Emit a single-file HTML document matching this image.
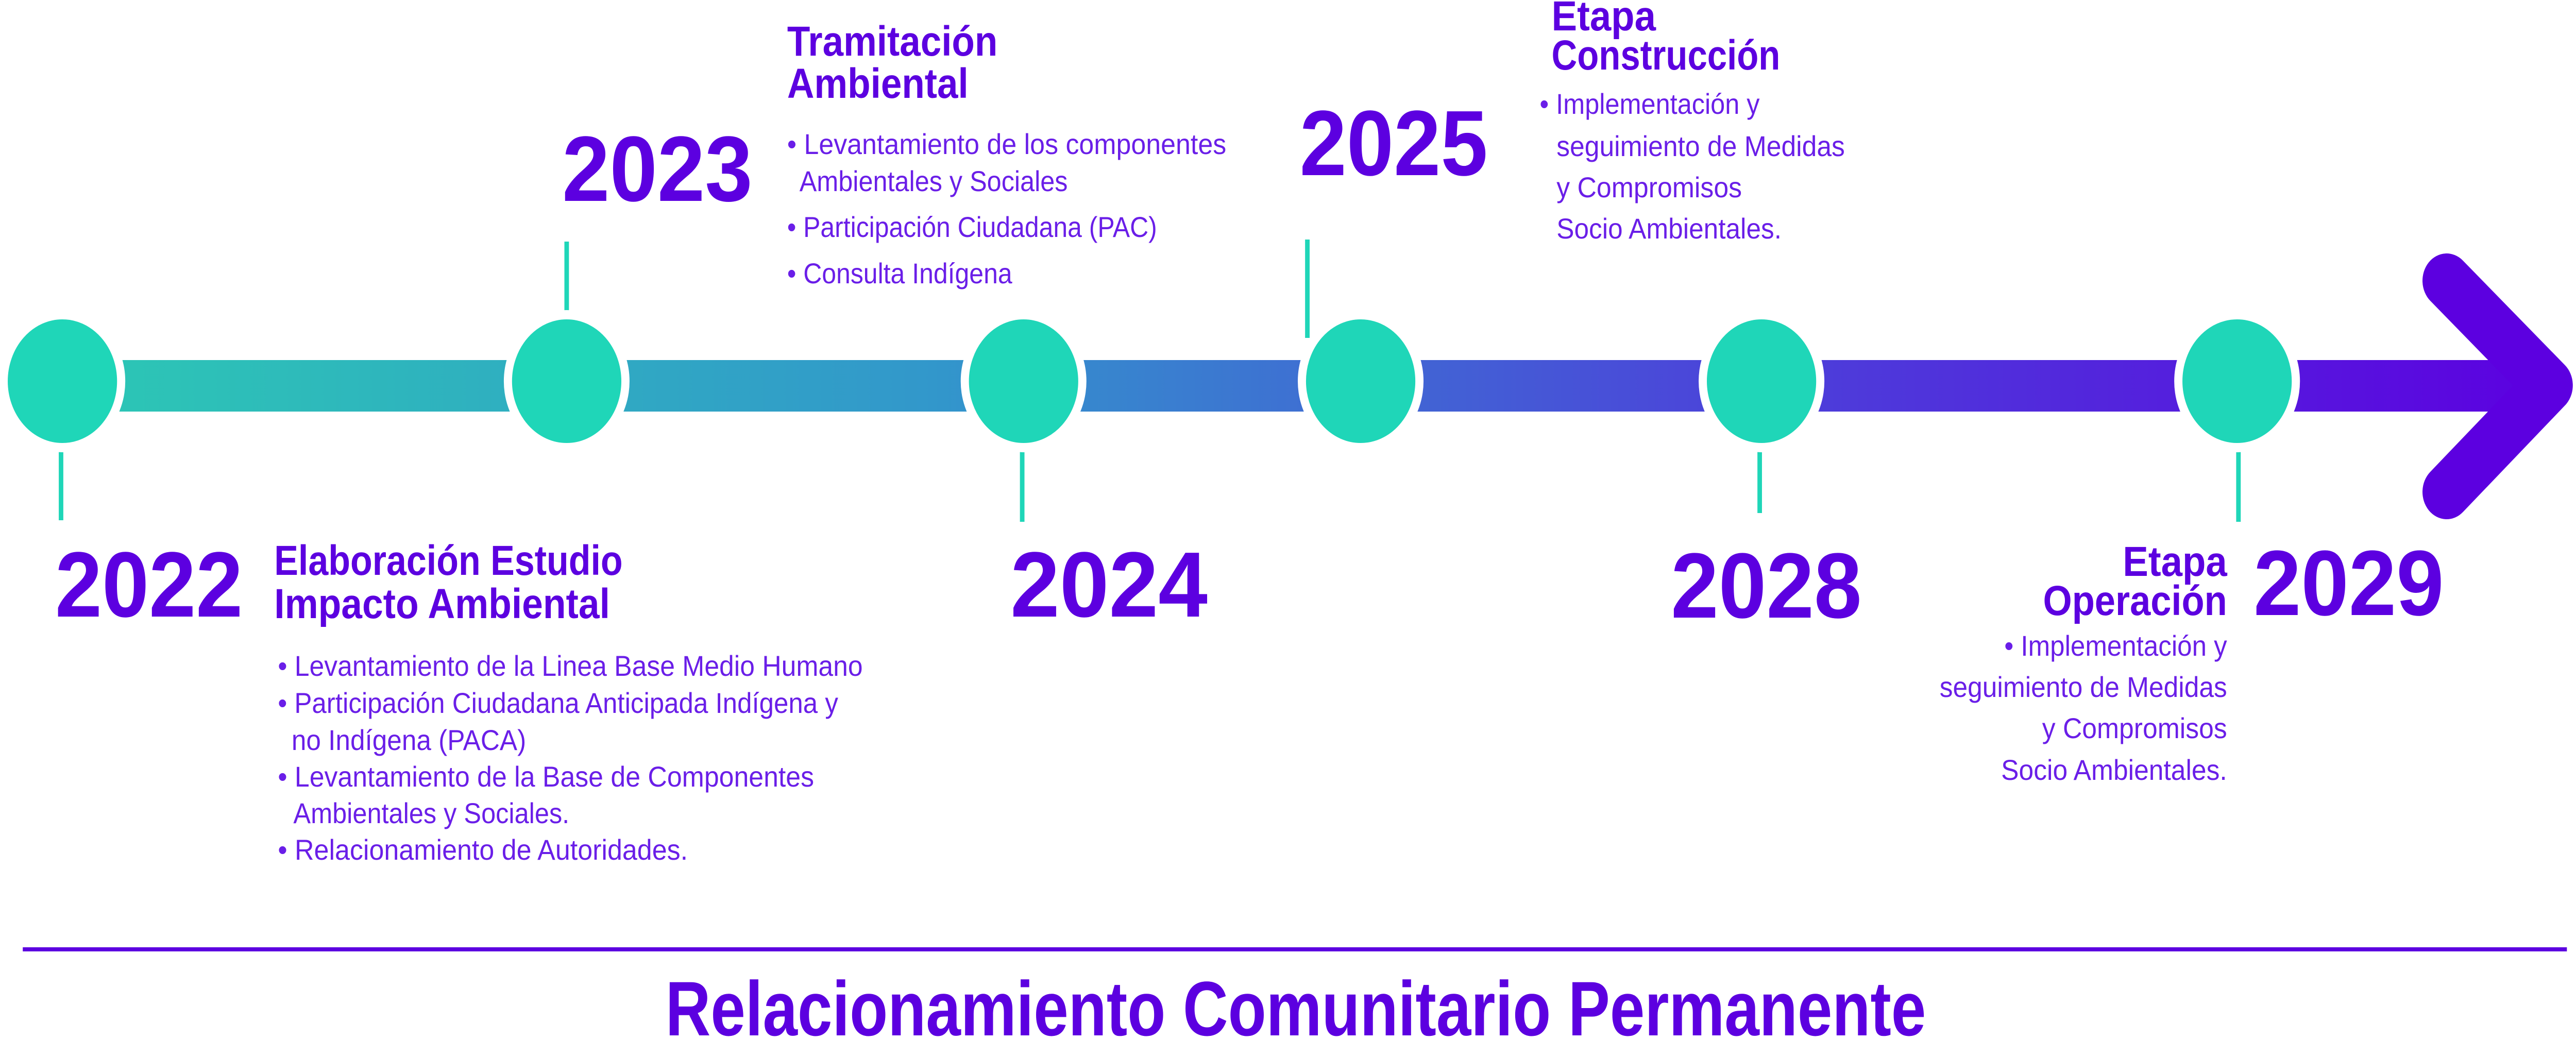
<!DOCTYPE html>
<html><head><meta charset="utf-8"><style>
html,body{margin:0;padding:0;background:#fff;width:100%;height:100%;overflow:hidden;}
svg{display:block;width:100vw;height:100vh;}
</style></head><body>
<svg viewBox="0 0 5655 2019" preserveAspectRatio="none" xmlns="http://www.w3.org/2000/svg">
<defs>
<linearGradient id="g" x1="137" y1="0" x2="5600" y2="0" gradientUnits="userSpaceOnUse">
<stop offset="0" stop-color="#2cc8b4"/>
<stop offset="0.35" stop-color="#3297cb"/>
<stop offset="0.65" stop-color="#4a48d9"/>
<stop offset="1" stop-color="#5c00e0"/>
</linearGradient>
</defs>
<rect x="137" y="699" width="5440" height="100" fill="url(#g)"/>
<polyline points="5371,545 5595,748 5371,955" fill="none" stroke="#5c00e0" stroke-width="106" stroke-linecap="round" stroke-linejoin="round"/>
<g stroke="#1fd6b8" stroke-width="10">
<line x1="134" y1="740" x2="134" y2="1010"/>
<line x1="1244" y1="469" x2="1244" y2="740"/>
<line x1="2244" y1="740" x2="2244" y2="1013"/>
<line x1="2870" y1="465" x2="2870" y2="656"/>
<line x1="3863" y1="740" x2="3863" y2="996"/>
<line x1="4914" y1="740" x2="4914" y2="1013"/>
</g>
<g fill="#1fd6b8" stroke="#fff" stroke-width="18">
<circle cx="137" cy="740" r="129"/>
<circle cx="1244" cy="740" r="129"/>
<circle cx="2247" cy="740" r="129"/>
<circle cx="2987" cy="740" r="129"/>
<circle cx="3867" cy="740" r="129"/>
<circle cx="4911" cy="740" r="129"/>
</g>
<g font-family="Liberation Sans, sans-serif" font-weight="bold" fill="#5c00e0" font-size="180">
<text x="121" y="1197" textLength="412" lengthAdjust="spacingAndGlyphs">2022</text>
<text x="1234" y="390" textLength="418" lengthAdjust="spacingAndGlyphs">2023</text>
<text x="2218" y="1197" textLength="433" lengthAdjust="spacingAndGlyphs">2024</text>
<text x="2853" y="340" textLength="413" lengthAdjust="spacingAndGlyphs">2025</text>
<text x="3668" y="1199" textLength="419" lengthAdjust="spacingAndGlyphs">2028</text>
<text x="4947" y="1194" textLength="418" lengthAdjust="spacingAndGlyphs">2029</text>
</g>
<g font-family="Liberation Sans, sans-serif" font-weight="bold" fill="#5c00e0" font-size="82">
<text x="602" y="1116" textLength="765" lengthAdjust="spacingAndGlyphs">Elaboración Estudio</text>
<text x="602" y="1200" textLength="737" lengthAdjust="spacingAndGlyphs">Impacto Ambiental</text>
<text x="1728" y="108" textLength="462" lengthAdjust="spacingAndGlyphs">Tramitación</text>
<text x="1728" y="190" textLength="398" lengthAdjust="spacingAndGlyphs">Ambiental</text>
<text x="3406" y="59" textLength="229" lengthAdjust="spacingAndGlyphs">Etapa</text>
<text x="3406" y="135" textLength="502" lengthAdjust="spacingAndGlyphs">Construcción</text>
<text x="4660" y="1118" textLength="229" lengthAdjust="spacingAndGlyphs">Etapa</text>
<text x="4485" y="1194" textLength="404" lengthAdjust="spacingAndGlyphs">Operación</text>
</g>
<g font-family="Liberation Sans, sans-serif" fill="#6a1ee8" font-size="56">
<text x="610" y="1312" textLength="1284" lengthAdjust="spacingAndGlyphs">• Levantamiento de la Linea Base Medio Humano</text>
<text x="610" y="1384" textLength="1230" lengthAdjust="spacingAndGlyphs">• Participación Ciudadana Anticipada Indígena y</text>
<text x="640" y="1456" textLength="515" lengthAdjust="spacingAndGlyphs">no Indígena (PACA)</text>
<text x="610" y="1527" textLength="1177" lengthAdjust="spacingAndGlyphs">• Levantamiento de la Base de Componentes</text>
<text x="644" y="1598" textLength="606" lengthAdjust="spacingAndGlyphs">Ambientales y Sociales.</text>
<text x="610" y="1669" textLength="900" lengthAdjust="spacingAndGlyphs">• Relacionamiento de Autoridades.</text>

<text x="1728" y="299" textLength="964" lengthAdjust="spacingAndGlyphs">• Levantamiento de los componentes</text>
<text x="1755" y="371" textLength="589" lengthAdjust="spacingAndGlyphs">Ambientales y Sociales</text>
<text x="1728" y="460" textLength="812" lengthAdjust="spacingAndGlyphs">• Participación Ciudadana (PAC)</text>
<text x="1728" y="550" textLength="494" lengthAdjust="spacingAndGlyphs">• Consulta Indígena</text>

<text x="3380" y="221" textLength="483" lengthAdjust="spacingAndGlyphs">• Implementación y</text>
<text x="3417" y="303" textLength="633" lengthAdjust="spacingAndGlyphs">seguimiento de Medidas</text>
<text x="3417" y="383" textLength="407" lengthAdjust="spacingAndGlyphs">y Compromisos</text>
<text x="3417" y="463" textLength="494" lengthAdjust="spacingAndGlyphs">Socio Ambientales.</text>

<text x="4400" y="1273" textLength="489" lengthAdjust="spacingAndGlyphs">• Implementación y</text>
<text x="4258" y="1353" textLength="631" lengthAdjust="spacingAndGlyphs">seguimiento de Medidas</text>
<text x="4483" y="1433" textLength="406" lengthAdjust="spacingAndGlyphs">y Compromisos</text>
<text x="4393" y="1514" textLength="496" lengthAdjust="spacingAndGlyphs">Socio Ambientales.</text>
</g>
<rect x="50" y="1839" width="5585" height="8" fill="#5c00e0"/>
<text x="1461" y="2010" font-family="Liberation Sans, sans-serif" font-weight="bold" font-size="150" fill="#5c00e0" textLength="2767" lengthAdjust="spacingAndGlyphs">Relacionamiento Comunitario Permanente</text>
</svg>
</body></html>
